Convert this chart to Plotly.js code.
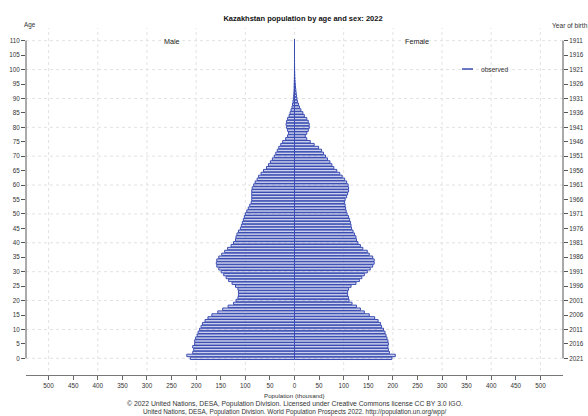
<!DOCTYPE html>
<html>
<head>
<meta charset="utf-8">
<script src="https://cdn.plot.ly/plotly-3.0.1.min.js"></script>
<style>
  html, body { margin: 0; padding: 0; background: #ffffff; }
  #chart { width: 588px; height: 416px; }
</style>
</head>
<body>
<div id="chart"></div>
<script>
// Single-year ages 0..110
const ages = [
  0,1,2,3,4,5,6,7,8,9,10,11,12,13,14,15,16,17,18,19,
  20,21,22,23,24,25,26,27,28,29,30,31,32,33,34,35,36,37,38,39,
  40,41,42,43,44,45,46,47,48,49,50,51,52,53,54,55,56,57,58,59,
  60,61,62,63,64,65,66,67,68,69,70,71,72,73,74,75,76,77,78,79,
  80,81,82,83,84,85,86,87,88,89,90,91,92,93,94,95,96,97,98,99,
  100,101,102,103,104,105,106,107,108,109,110
];

// Male population by age (thousand)
const male = [
  212,219,207,205,207,203,203,201,198,196,193,190,187,182,176,168,156,146,135,124,
  119,115,114,114,115,120,127,134,139,144,149,154,158,159,158,154,148,142,136,129,
  124,120,119,117,114,110,108,106,104,102,100,97,94,91,88,87,87,87,87,86,
  83,80,76,73,68,63,57,53,49,45,41,38,35,32,28,24,18,14,12,14,
  16,17,16,14,11,9,7,5,4,3,2.2,1.7,1.3,1.0,0.8,0.6,0.45,0.35,0.25,0.18,
  0.12,0.08,0.05,0.03,0.02,0.015,0.01,0.006,0.004,0.002,0.001
];

// Female population by age (thousand)
const female = [
  198,205,193,191,190,191,190,188,186,184,181,177,175,170,163,152,142,134,126,117,
  111,110,108,108,110,115,125,132,137,142,148,154,159,162,162,159,152,148,139,134,
  129,126,125,122,119,116,115,114,112,110,107,105,104,103,102,103,106,108,110,110,
  109,106,102,97,92,86,80,76,72,67,63,59,55,49,40,32,25,22,25,28,
  30,30,28,25,20,17,13,10,8,6,5,4.2,3.4,2.7,2.1,1.6,1.2,0.9,0.65,0.45,
  0.3,0.2,0.13,0.08,0.05,0.03,0.02,0.01,0.006,0.003,0.002
];

// Bottom axis ticks (absolute population, thousand)
const xTickVals = [-500,-450,-400,-350,-300,-250,-200,-150,-100,-50,0,50,100,150,200,250,300,350,400,450,500];
const xTickText = ['500','450','400','350','300','250','200','150','100','50','0','50','100','150','200','250','300','350','400','450','500'];

// Age ticks (left) and year-of-birth ticks (right)
const ageTickVals = [0,5,10,15,20,25,30,35,40,45,50,55,60,65,70,75,80,85,90,95,100,105,110];
const birthYearText = ['2021','2016','2011','2006','2001','1996','1991','1986','1981','1976','1971','1966','1961','1956','1951','1946','1941','1936','1931','1926','1921','1916','1911'];

const gridX = [-500,-400,-300,-200,-100,0,100,200,300,400,500];
const gridY = [0,10,20,30,40,50,60,70,80,90,100,110];

const EDGE = 'rgb(58,76,178)';
const FILL = 'rgba(58,76,178,0.26)';
const FONT = 'Liberation Sans, Arial, Helvetica, sans-serif';
const TXT = '#333333';

const yBottom = 0.0115;   // plot area starts slightly above the offset x axis
const yRange = [-4.4, 114.4];
const xRange = [-546, 546];

const barStyle = {
  type: 'bar',
  orientation: 'h',
  width: 0.85,
  marker: { color: FILL, line: { color: EDGE, width: 1 } },
  showlegend: false,
  hoverinfo: 'x+y'
};

const traces = [
  Object.assign({}, barStyle, { name: 'Male', y: ages, x: male.map(v => -v) }),
  Object.assign({}, barStyle, { name: 'Female', y: ages, x: female }),
  // carrier for the right-hand year-of-birth axis
  { type: 'scatter', mode: 'lines', x: [null], y: [null], yaxis: 'y2', showlegend: false, hoverinfo: 'skip' }
];

const GRID = { color: '#e2e2e2', width: 1, dash: 'dot' };
const shapes = [];
gridX.forEach(v => shapes.push({
  type: 'line', layer: 'below', xref: 'x', yref: 'paper',
  x0: v, x1: v, y0: yBottom, y1: 1, line: GRID
}));
gridY.forEach(v => shapes.push({
  type: 'line', layer: 'below', xref: 'paper', yref: 'y',
  x0: 0, x1: 1, y0: v, y1: v, line: GRID
}));
// vertical axis lines spanning the labelled ages only
[0, 1].forEach(px => shapes.push({
  type: 'line', xref: 'paper', yref: 'y',
  x0: px, x1: px, y0: 0, y1: 110,
  line: { color: '#555555', width: 1 }
}));
// legend sample line
shapes.push({
  type: 'line', xref: 'paper', yref: 'paper',
  x0: (462 - 26) / 537, x1: (473 - 26) / 537, y0: 0.8818, y1: 0.8818,
  line: { color: EDGE, width: 1.5 }
});

const ann = (text, x, y, size, opts) => Object.assign({
  text: text, x: x, y: y, xref: 'paper', yref: 'paper',
  showarrow: false, font: { family: FONT, size: size, color: TXT },
  xanchor: 'center', yanchor: 'middle'
}, opts || {});

const annotations = [
  ann('Age', (30 - 26) / 537, 1.0086, 6.3),
  ann('Year of birth', (570 - 26) / 537, 1.0086, 6.6),
  ann('Male', -250, 0.9625, 7.2, { xref: 'x', font: { family: FONT, size: 7.2, color: '#222' } }),
  ann('Female', 250, 0.9625, 7.2, { xref: 'x', font: { family: FONT, size: 7.2, color: '#222' } }),
  ann('observed', (479 - 26) / 537, 0.8818, 6.6, { xanchor: 'left' }),
  ann('Population (thousand)', 0.5, -0.0605, 6.2),
  ann('\u00a9 2022 United Nations, DESA, Population Division. Licensed under Creative Commons license CC BY 3.0 IGO.', 0.5, -0.084, 6.8),
  ann('United Nations, DESA, Population Division. World Population Prospects 2022. http://population.un.org/wpp/', 0.5, -0.108, 6.4)
];

const layout = {
  width: 588,
  height: 416,
  margin: { l: 26, r: 25, t: 28, b: 41, pad: 0 },
  paper_bgcolor: '#ffffff',
  plot_bgcolor: '#ffffff',
  barmode: 'overlay',
  font: { family: FONT, size: 6.3, color: TXT },
  title: {
    text: '<b>Kazakhstan population by age and sex: 2022</b>',
    xref: 'container', yref: 'container',
    x: 303 / 588, y: 1 - 18 / 416, xanchor: 'center', yanchor: 'middle',
    font: { family: FONT, size: 7.5, color: '#111' }
  },
  xaxis: {
    range: xRange,
    anchor: 'free', position: 0,
    tickmode: 'array', tickvals: xTickVals, ticktext: xTickText,
    ticks: 'outside', ticklen: 4, tickcolor: '#666', tickwidth: 1,
    showline: true, linecolor: '#777', linewidth: 1,
    showgrid: false, zeroline: false,
    tickfont: { family: FONT, size: 6.3, color: TXT },
    fixedrange: true
  },
  yaxis: {
    range: yRange, domain: [yBottom, 1],
    tickmode: 'array', tickvals: ageTickVals,
    ticks: 'outside', ticklen: 4, tickcolor: '#555', tickwidth: 1,
    showline: false, showgrid: false, zeroline: false,
    tickfont: { family: FONT, size: 6.3, color: TXT },
    fixedrange: true
  },
  yaxis2: {
    range: yRange, overlaying: 'y', side: 'right', anchor: 'x',
    tickmode: 'array', tickvals: ageTickVals, ticktext: birthYearText,
    ticks: 'outside', ticklen: 4, tickcolor: '#555', tickwidth: 1,
    showline: false, showgrid: false, zeroline: false,
    tickfont: { family: FONT, size: 6.3, color: TXT },
    fixedrange: true
  },
  shapes: shapes,
  annotations: annotations,
  showlegend: false
};

Plotly.newPlot('chart', traces, layout, { staticPlot: true, displayModeBar: false });
</script>
</body>
</html>
